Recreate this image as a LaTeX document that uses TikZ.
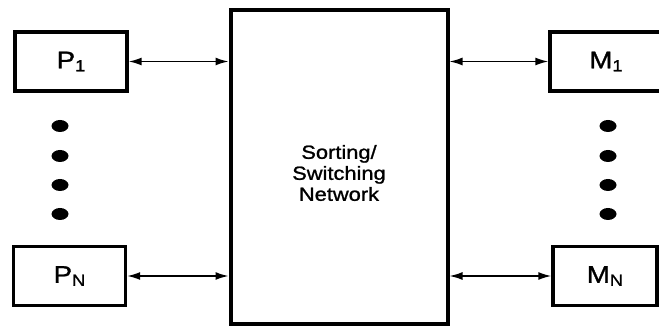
\documentclass[tikz,border=0pt]{standalone}
\usepackage{fontspec}
\setmainfont{Liberation Sans}
\newfontfamily\widefont[FakeStretch=1.15,FakeBold=1.2]{Liberation Sans}
\usetikzlibrary{arrows.meta}
\begin{document}
\begin{tikzpicture}[x=1pt,y=-1pt,
  unitbox/.style={draw,line width=3.4pt,minimum width=112pt,minimum height=59pt,inner sep=0pt,
     font=\widefont\fontsize{24}{24}\selectfont},
  netbox/.style={draw,line width=4pt,minimum width=217pt,minimum height=314pt,inner sep=0pt},
  link/.style={line width=1.6pt,{Latex[length=13pt,width=8pt]}-{Latex[length=13pt,width=8pt]}}]
\useasboundingbox (0,0) rectangle (659,328);
\newcommand{\subx}[1]{\raisebox{-3pt}{\fontsize{16}{16}\selectfont #1}}
\node[unitbox] (p1) at (71,61.5) {P\subx{1}};
\node[unitbox] (pn) at (69.5,276) {P\subx{N}};
\node[unitbox] (m1) at (606,61.5) {M\subx{1}};
\node[unitbox,minimum width=104pt] (mn) at (605,276) {M\subx{N}};
\node[netbox] (net) at (339,167) {};
\node[align=center,font=\widefont\fontsize{19}{21}\selectfont] (lbl) at (339,173) {Sorting/\\Switching\\Network};
\draw[link] (p1.east) -- (p1.east -| net.west);
\draw[link] (pn.east) -- (pn.east -| net.west);
\draw[link] (m1.west -| net.east) -- (m1.west);
\draw[link] (mn.west -| net.east) -- (mn.west);
\foreach \yy in {126,156,185,214}{
  \fill (60,\yy) ellipse [x radius=8.5pt, y radius=6pt];
  \fill (608,\yy) ellipse [x radius=8.5pt, y radius=6pt];
}
\end{tikzpicture}
\end{document}
